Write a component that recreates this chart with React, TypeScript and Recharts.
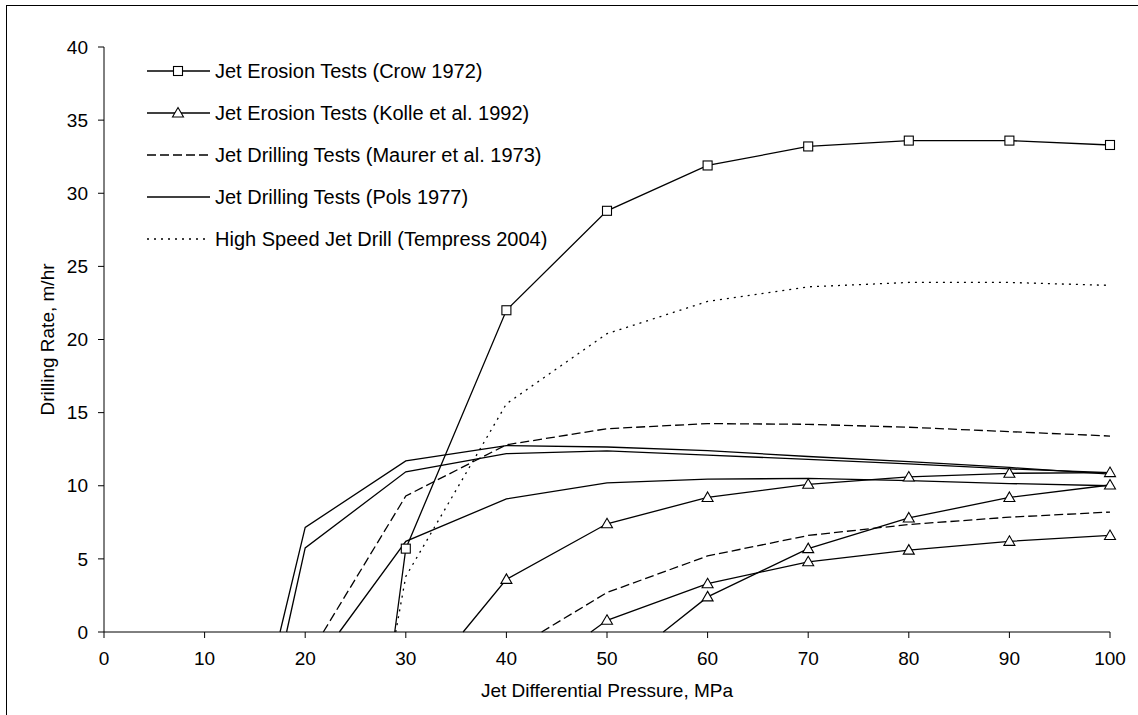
import { LineChart, Line, XAxis, YAxis, Legend } from 'recharts'

const xTicks = [0, 10, 20, 30, 40, 50, 60, 70, 80, 90, 100]
const yTicks = [0, 5, 10, 15, 20, 25, 30, 35, 40]

// jet erosion tests, Crow 1972 (squares)
const crowP = [28.9, 30, 40, 50, 60, 70, 80, 90, 100]
const crowR = [0, 5.7, 22.0, 28.8, 31.9, 33.2, 33.6, 33.6, 33.3]

// jet erosion tests, Kolle et al. 1992 (triangles)
const kolleAP = [35.7, 40, 50, 60, 70, 80, 90, 100]
const kolleAR = [0, 3.6, 7.4, 9.2, 10.1, 10.6, 10.85, 10.9]
const kolleBP = [48.4, 50, 60, 70, 80, 90, 100]
const kolleBR = [0, 0.8, 3.3, 4.8, 5.6, 6.2, 6.6]
const kolleCP = [55.6, 60, 70, 80, 90, 100]
const kolleCR = [0, 2.4, 5.7, 7.8, 9.2, 10.05]

// jet drilling tests, Maurer et al. 1973 (dashed)
const maurerAP = [21.8, 30, 40, 50, 60, 70, 80, 90, 100]
const maurerAR = [0, 9.3, 12.8, 13.9, 14.25, 14.2, 14.0, 13.7, 13.4]
const maurerBP = [43.5, 50, 60, 70, 80, 90, 100]
const maurerBR = [0, 2.7, 5.2, 6.6, 7.35, 7.85, 8.2]

// jet drilling tests, Pols 1977 (solid)
const polsAP = [17.5, 20, 30, 40, 50, 60, 70, 80, 90, 100]
const polsAR = [0, 7.15, 11.7, 12.75, 12.65, 12.4, 12.0, 11.65, 11.25, 10.8]
const polsBP = [18.15, 20, 30, 40, 50, 60, 70, 80, 90, 100]
const polsBR = [0, 5.75, 10.95, 12.2, 12.38, 12.1, 11.8, 11.5, 11.15, 10.9]
const polsCP = [23.4, 30, 40, 50, 60, 70, 80, 90, 100]
const polsCR = [0, 6.2, 9.1, 10.2, 10.45, 10.5, 10.35, 10.15, 10.0]

// high speed jet drill, Tempress 2004 (dotted)
const tempressP = [29.0, 30, 40, 50, 60, 70, 80, 90, 100]
const tempressR = [0, 3.8, 15.6, 20.4, 22.6, 23.6, 23.9, 23.9, 23.7]

const legendLabels = [
  'Jet Erosion Tests (Crow 1972)',
  'Jet Erosion Tests (Kolle et al. 1992)',
  'Jet Drilling Tests (Maurer et al. 1973)',
  'Jet Drilling Tests (Pols 1977)',
  'High Speed Jet Drill (Tempress 2004)',
]

const FONT = '"Liberation Sans", Arial, sans-serif'
const DASH = '9 4'
const DOT = '2 5'

const toData = (p: number[], r: number[]) => p.map((x, i) => ({ p: x, r: r[i] }))

function Square({ cx, cy }: { cx: number; cy: number }) {
  return <rect x={cx - 4.5} y={cy - 4.5} width={9} height={9} fill="#fff" stroke="#000" strokeWidth={1.1} />
}

function Triangle({ cx, cy }: { cx: number; cy: number }) {
  return (
    <polygon
      points={`${cx},${cy - 5.5} ${cx + 5.5},${cy + 4} ${cx - 5.5},${cy + 4}`}
      fill="#fff"
      stroke="#000"
      strokeWidth={1.1}
    />
  )
}

const squareDot = (props: any) =>
  props.payload && props.payload.r > 0 ? <Square key={props.index} cx={props.cx} cy={props.cy} /> : <g key={props.index} />

const triangleDot = (props: any) =>
  props.payload && props.payload.r > 0 ? <Triangle key={props.index} cx={props.cx} cy={props.cy} /> : <g key={props.index} />

function LegendBox() {
  const rowGap = 42
  return (
    <svg width={560} height={220}>
      {legendLabels.map((label, i) => {
        const y = 21 + i * rowGap
        return (
          <g key={label}>
            <line
              x1={7}
              x2={70}
              y1={y}
              y2={y}
              stroke="#000"
              strokeWidth={1.3}
              strokeDasharray={i === 2 ? DASH : i === 4 ? DOT : undefined}
            />
            {i === 0 && <Square cx={38} cy={y} />}
            {i === 1 && <Triangle cx={38} cy={y} />}
            <text x={75} y={y} dy="0.35em" fontSize={20} fill="#000" fontFamily={FONT}>
              {label}
            </text>
          </g>
        )
      })}
    </svg>
  )
}

const common = {
  type: 'linear' as const,
  dataKey: 'r',
  stroke: '#000',
  strokeWidth: 1.3,
  isAnimationActive: false,
  activeDot: false,
  legendType: 'none' as const,
}

export default function App() {
  return (
    <div
      style={{
        position: 'absolute',
        left: 0,
        top: 0,
        width: 1138,
        height: 715,
        overflow: 'hidden',
        background: '#fff',
        fontFamily: FONT,
      }}
    >
      <div
        style={{
          position: 'absolute',
          left: 6,
          top: 5,
          width: 1160,
          height: 740,
          border: '1.5px solid #000',
        }}
      />
      <div style={{ position: 'absolute', left: 0, top: 0 }}>
        <LineChart width={1138} height={715} margin={{ top: 47, right: 28, bottom: 0, left: 0 }}>
          <XAxis
            type="number"
            dataKey="p"
            domain={[0, 100]}
            ticks={xTicks}
            interval={0}
            height={83}
            tickSize={6}
            tickMargin={14}
            stroke="#000"
            tick={{ fill: '#000', fontSize: 19 }}
            label={(props: any) => {
              const vb = props.viewBox
              return (
                <text x={vb.x + vb.width / 2} y={vb.y + 65} textAnchor="middle" fontSize={19} fill="#000">
                  Jet Differential Pressure, MPa
                </text>
              )
            }}
          />
          <YAxis
            type="number"
            domain={[0, 40]}
            ticks={yTicks}
            interval={0}
            width={104}
            tickSize={6}
            tickMargin={10}
            stroke="#000"
            tick={{ fill: '#000', fontSize: 19 }}
            label={(props: any) => {
              const vb = props.viewBox
              const cx = 54
              const cy = vb.y + vb.height / 2
              return (
                <text x={cx} y={cy} textAnchor="middle" fontSize={19} fill="#000" transform={`rotate(-90, ${cx}, ${cy})`}>
                  Drilling Rate, m/hr
                </text>
              )
            }}
          />
          <Legend
            layout="vertical"
            align="center"
            verticalAlign="middle"
            content={() => <LegendBox />}
            wrapperStyle={{ position: 'absolute', left: 140, top: 50, width: 560, height: 220 }}
          />
          <Line {...common} data={toData(polsAP, polsAR)} dot={false} />
          <Line {...common} data={toData(polsBP, polsBR)} dot={false} />
          <Line {...common} data={toData(polsCP, polsCR)} dot={false} />
          <Line {...common} data={toData(maurerAP, maurerAR)} dot={false} strokeDasharray={DASH} />
          <Line {...common} data={toData(maurerBP, maurerBR)} dot={false} strokeDasharray={DASH} />
          <Line {...common} data={toData(tempressP, tempressR)} dot={false} strokeDasharray={DOT} />
          <Line {...common} data={toData(kolleAP, kolleAR)} dot={triangleDot} />
          <Line {...common} data={toData(kolleBP, kolleBR)} dot={triangleDot} />
          <Line {...common} data={toData(kolleCP, kolleCR)} dot={triangleDot} />
          <Line {...common} data={toData(crowP, crowR)} dot={squareDot} />
        </LineChart>
      </div>
    </div>
  )
}
